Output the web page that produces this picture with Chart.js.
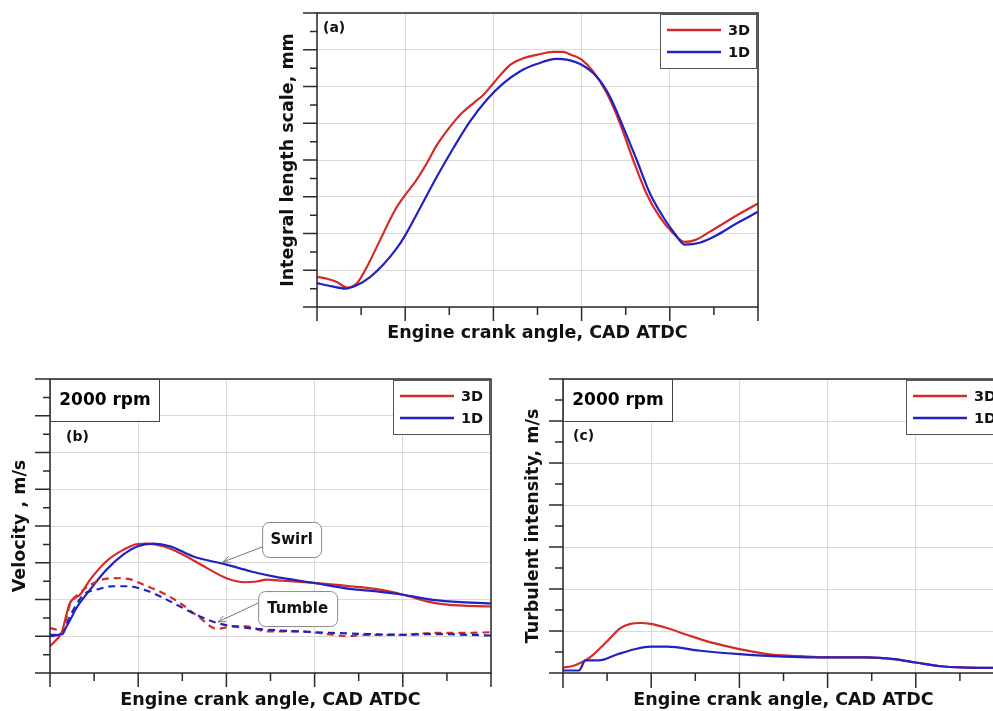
<!DOCTYPE html>
<html>
<head>
<meta charset="utf-8">
<script src="https://cdn.jsdelivr.net/npm/chart.js@4/dist/chart.umd.min.js"></script>
<style>
  html, body { margin: 0; padding: 0; background: #fff; overflow: hidden; width: 993px; height: 711px; }
  canvas { position: absolute; }
</style>
</head>
<body>
<canvas id="panelA" width="500" height="345" style="left:270px;top:0px"></canvas>
<canvas id="panelB" width="500" height="351" style="left:0px;top:360px"></canvas>
<canvas id="panelC" width="520" height="351" style="left:500px;top:360px"></canvas>
<script>
// ---- (a) integral length scale ----
const lengthX3D = [0, 0.23, 0.45, 0.68, 0.9, 1.13, 1.43, 1.77, 2.0, 2.23, 2.49, 2.72, 3.02, 3.28, 3.55, 3.77, 4.0, 4.38, 4.68, 4.98, 5.36, 5.58, 5.77, 6.0, 6.26, 6.57, 6.87, 7.17, 7.47, 7.77, 8.08, 8.34, 8.57, 8.91, 9.28, 9.66, 10];
const length3D  = [0.82, 0.77, 0.68, 0.53, 0.64, 1.09, 1.82, 2.64, 3.05, 3.41, 3.91, 4.41, 4.91, 5.27, 5.55, 5.77, 6.09, 6.59, 6.77, 6.86, 6.94, 6.94, 6.86, 6.73, 6.41, 5.82, 5.0, 4.0, 3.09, 2.45, 2.0, 1.77, 1.82, 2.05, 2.32, 2.59, 2.82];
const lengthX1D = [0, 0.34, 0.64, 0.9, 1.21, 1.51, 1.81, 2.0, 2.34, 2.72, 3.09, 3.47, 3.85, 4.23, 4.6, 4.98, 5.43, 5.66, 6.0, 6.34, 6.64, 6.94, 7.25, 7.55, 7.85, 8.11, 8.34, 8.68, 9.06, 9.51, 10];
const length1D  = [0.65, 0.56, 0.5, 0.59, 0.82, 1.16, 1.6, 1.95, 2.7, 3.55, 4.32, 5.05, 5.64, 6.09, 6.41, 6.61, 6.75, 6.73, 6.59, 6.27, 5.73, 4.91, 4.0, 3.09, 2.45, 2.0, 1.7, 1.75, 1.95, 2.27, 2.59];

// ---- (b) swirl and tumble velocity ----
const swirlX3D = [0, 0.15, 0.26, 0.45, 0.68, 0.91, 1.28, 1.66, 1.99, 2.19, 2.57, 3.02, 3.55, 4.0, 4.42, 4.69, 4.91, 5.29, 5.99, 6.8, 7.41, 8.01, 8.54, 9.0, 10];
const swirl3D  = [0.73, 0.91, 1.09, 1.9, 2.13, 2.54, 3.04, 3.35, 3.51, 3.52, 3.45, 3.22, 2.86, 2.58, 2.47, 2.49, 2.54, 2.51, 2.45, 2.36, 2.28, 2.13, 1.95, 1.86, 1.81];
const swirlX1D = [0, 0.26, 0.42, 0.6, 0.91, 1.28, 1.66, 1.99, 2.34, 2.72, 3.25, 4.0, 4.54, 5.06, 5.99, 6.8, 7.41, 8.01, 8.69, 9.45, 10];
const swirl1D  = [1.0, 1.07, 1.36, 1.77, 2.27, 2.81, 3.22, 3.45, 3.52, 3.45, 3.17, 2.95, 2.77, 2.63, 2.45, 2.29, 2.22, 2.13, 1.99, 1.92, 1.89];
const tumbleX3D = [0, 0.15, 0.26, 0.45, 0.68, 1.06, 1.44, 1.78, 2.12, 2.49, 2.95, 3.4, 3.78, 4.16, 4.46, 4.91, 5.67, 6.42, 6.73, 7.18, 8.01, 8.69, 9.45, 10];
const tumble3D  = [1.22, 1.18, 1.09, 1.86, 2.18, 2.49, 2.58, 2.56, 2.4, 2.22, 1.9, 1.5, 1.2, 1.27, 1.27, 1.13, 1.13, 1.04, 1.0, 1.04, 1.04, 1.09, 1.09, 1.11];
const tumbleX1D = [0, 0.26, 0.45, 0.76, 1.06, 1.44, 1.78, 2.12, 2.49, 2.95, 3.4, 3.85, 4.31, 4.91, 5.67, 6.42, 7.18, 8.01, 8.69, 9.45, 10];
const tumble1D  = [1.04, 1.04, 1.54, 2.13, 2.27, 2.36, 2.36, 2.27, 2.09, 1.81, 1.54, 1.34, 1.25, 1.18, 1.13, 1.09, 1.06, 1.04, 1.06, 1.04, 1.02];

// ---- (c) turbulent intensity ----
const turbX3D = [0, 0.2, 0.39, 0.62, 0.85, 1.07, 1.3, 1.53, 1.75, 1.99, 2.36, 2.81, 3.42, 4.0, 4.63, 5.38, 6.0, 6.89, 7.5, 8.0, 8.56, 9.16, 9.77, 10];
const turb3D  = [0.13, 0.16, 0.24, 0.38, 0.6, 0.83, 1.07, 1.17, 1.19, 1.17, 1.07, 0.91, 0.71, 0.57, 0.45, 0.4, 0.37, 0.37, 0.33, 0.25, 0.16, 0.13, 0.12, 0.12];
const turbX1D = [0, 0.36, 0.51, 0.81, 1.22, 1.6, 1.99, 2.36, 3.11, 4.0, 4.63, 5.38, 6.0, 6.89, 7.5, 8.0, 8.56, 9.16, 9.77, 10];
const turb1D  = [0.06, 0.06, 0.3, 0.3, 0.44, 0.56, 0.63, 0.63, 0.53, 0.45, 0.41, 0.38, 0.37, 0.37, 0.33, 0.25, 0.16, 0.13, 0.12, 0.12];

const seriesNames = ['3D', '1D'];
const xTitle = 'Engine crank angle, CAD ATDC';

const RED = '#d42a2a';
const BLUE = '#2222c0';
const INK = '#2a2a2a';
const GRID = '#dadada';
const FONT = 'DejaVu Sans';

const pts = (xs, ys) => xs.map((x, i) => ({ x, y: ys[i] }));

function line(label, xs, ys, color, dashed, order) {
  return {
    label, data: pts(xs, ys), borderColor: color, backgroundColor: color,
    borderWidth: 2.2, pointRadius: 0, cubicInterpolationMode: 'monotone',
    borderDash: dashed ? [7, 5] : [], fill: false, order
  };
}

// Frame, major/minor tick marks, legend and in-plot labels
const panelDecor = {
  id: 'panelDecor',
  afterDraw(chart, args, o) {
    const { ctx, chartArea: a, scales: { x, y } } = chart;
    ctx.save();
    ctx.strokeStyle = INK;
    ctx.lineWidth = 1.5;
    ctx.strokeRect(a.left, a.top, a.right - a.left, a.bottom - a.top);

    ctx.beginPath();
    for (let v = y.min; v <= y.max + 1e-9; v += 0.5) {
      const py = y.getPixelForValue(v);
      const len = Number.isInteger(v) ? o.yMajor : o.yMinor;
      ctx.moveTo(a.left - len, py); ctx.lineTo(a.left, py);
    }
    for (let v = x.min; v <= x.max + 1e-9; v += 1) {
      const px = x.getPixelForValue(v);
      const len = v % 2 === 0 ? o.xMajor : o.xMinor;
      ctx.moveTo(px, a.bottom); ctx.lineTo(px, a.bottom + len);
    }
    ctx.stroke();

    // legend
    const bx = a.right - 98, by = a.top + 1, bw = 96, bh = 54;
    ctx.fillStyle = '#fff';
    ctx.fillRect(bx, by, bw, bh);
    ctx.strokeStyle = '#555';
    ctx.lineWidth = 1;
    ctx.strokeRect(bx + 0.5, by + 0.5, bw, bh);
    const legendSets = chart.data.datasets.filter(d => d.inLegend);
    legendSets.forEach((d, i) => {
      const ly = by + 16 + i * 22;
      ctx.strokeStyle = d.borderColor;
      ctx.lineWidth = 2.6;
      ctx.beginPath(); ctx.moveTo(bx + 7, ly); ctx.lineTo(bx + 61, ly); ctx.stroke();
      ctx.fillStyle = '#111';
      ctx.font = `bold 14.5px "${FONT}"`;
      ctx.textBaseline = 'middle';
      ctx.textAlign = 'left';
      ctx.fillText(d.label, bx + 68, ly + 1);
    });

    // speed box
    if (o.rpm) {
      ctx.fillStyle = '#fff';
      ctx.fillRect(a.left, a.top, 109, 42);
      ctx.strokeStyle = '#444';
      ctx.lineWidth = 1;
      ctx.strokeRect(a.left + 0.5, a.top + 0.5, 109, 42);
      ctx.fillStyle = '#000';
      ctx.font = `bold 17px "${FONT}"`;
      ctx.textAlign = 'center';
      ctx.textBaseline = 'middle';
      ctx.fillText(o.rpm, a.left + 55, a.top + 22);
    }

    // panel tag
    ctx.fillStyle = '#111';
    ctx.font = `bold 14px "${FONT}"`;
    ctx.textAlign = 'left';
    ctx.textBaseline = 'middle';
    ctx.fillText(o.tag, a.left + o.tagDx, a.top + o.tagDy);

    // callouts
    (o.callouts || []).forEach(c => {
      const tx = x.getPixelForValue(c.tip[0]), ty = y.getPixelForValue(c.tip[1]);
      const lx = x.getPixelForValue(c.box[0]), ly = y.getPixelForValue(c.box[1]);
      const sx = lx, sy = ly + c.from;
      ctx.strokeStyle = '#777';
      ctx.lineWidth = 1;
      ctx.beginPath(); ctx.moveTo(sx, sy); ctx.lineTo(tx, ty); ctx.stroke();
      const ang = Math.atan2(ty - sy, tx - sx);
      ctx.beginPath();
      ctx.moveTo(tx - 8 * Math.cos(ang - 0.4), ty - 8 * Math.sin(ang - 0.4));
      ctx.lineTo(tx, ty);
      ctx.lineTo(tx - 8 * Math.cos(ang + 0.4), ty - 8 * Math.sin(ang + 0.4));
      ctx.stroke();
      ctx.fillStyle = '#fff';
      ctx.beginPath(); ctx.roundRect(lx + 0.5, ly + 0.5, c.w, c.h, 7); ctx.fill();
      ctx.strokeStyle = '#888';
      ctx.stroke();
      ctx.fillStyle = '#111';
      ctx.font = `bold 15px "${FONT}"`;
      ctx.textAlign = 'center';
      ctx.textBaseline = 'middle';
      ctx.fillText(c.text, lx + c.w / 2, ly + c.h / 2 + 1);
    });
    ctx.restore();
  }
};

function makeChart(id, datasets, cfg) {
  return new Chart(document.getElementById(id), {
    type: 'line',
    data: { datasets },
    plugins: [panelDecor],
    options: {
      responsive: false,
      animation: false,
      devicePixelRatio: 1,
      layout: { padding: { top: cfg.padTop, right: cfg.padRight, left: 0, bottom: 0 } },
      plugins: {
        legend: { display: false },
        tooltip: { enabled: false },
        panelDecor: cfg.decor
      },
      scales: {
        x: {
          type: 'linear', min: 0, max: 10,
          ticks: { display: false, stepSize: 2 },
          grid: { drawTicks: false, color: GRID, lineWidth: 1 },
          border: { display: false },
          title: { display: true, text: xTitle, color: '#111',
                   font: { family: FONT, size: 17.5, weight: 'bold' },
                   padding: { top: 0, bottom: cfg.xTitlePad } },
          afterFit: s => { s.height = cfg.xHeight; }
        },
        y: {
          type: 'linear', min: 0, max: cfg.yMax,
          ticks: { display: false, stepSize: 1 },
          grid: { drawTicks: false, color: GRID, lineWidth: 1 },
          border: { display: false },
          title: { display: true, text: cfg.yTitle, color: '#111',
                   font: { family: FONT, size: 17.5, weight: 'bold' },
                   padding: { top: cfg.yTitlePad, bottom: 0 } },
          afterFit: s => { s.width = cfg.yWidth; }
        }
      }
    }
  });
}

function legendPair(d3, d1) {
  d3.inLegend = true; d1.inLegend = true;
  return [d3, d1];
}

// (a)
makeChart('panelA', legendPair(
  line(seriesNames[0], lengthX3D, length3D, RED, false, 2),
  line(seriesNames[1], lengthX1D, length1D, BLUE, false, 1)
), {
  padTop: 13, padRight: 12, xHeight: 38, yWidth: 47, yMax: 8,
  xTitlePad: 1.5, yTitlePad: 7.5, yTitle: 'Integral length scale, mm',
  decor: { yMajor: 14, yMinor: 7, xMajor: 14, xMinor: 8, tag: '(a)', tagDx: 6, tagDy: 15 }
});

// (b)
const bSets = legendPair(
  line(seriesNames[0], swirlX3D, swirl3D, RED, false, 4),
  line(seriesNames[1], swirlX1D, swirl1D, BLUE, false, 3)
);
bSets.push(line('Tumble ' + seriesNames[0], tumbleX3D, tumble3D, RED, true, 2));
bSets.push(line('Tumble ' + seriesNames[1], tumbleX1D, tumble1D, BLUE, true, 1));
makeChart('panelB', bSets, {
  padTop: 19, padRight: 9, xHeight: 38, yWidth: 50, yMax: 8,
  xTitlePad: 0.5, yTitlePad: 9.5, yTitle: 'Velocity , m/s',
  decor: {
    yMajor: 15, yMinor: 7, xMajor: 14, xMinor: 8, tag: '(b)', tagDx: 16, tagDy: 58, rpm: '2000 rpm',
    callouts: [
      { text: 'Swirl', tip: [3.92, 3.02], box: [4.81, 4.11], w: 59, h: 35, from: 25 },
      { text: 'Tumble', tip: [3.81, 1.39], box: [4.72, 2.23], w: 79, h: 35, from: 12 }
    ]
  }
});

// (c)
makeChart('panelC', legendPair(
  line(seriesNames[0], turbX3D, turb3D, RED, false, 2),
  line(seriesNames[1], turbX1D, turb1D, BLUE, false, 1)
), {
  padTop: 19, padRight: 16, xHeight: 38, yWidth: 63, yMax: 7,
  xTitlePad: 0.5, yTitlePad: 22.5, yTitle: 'Turbulent intensity, m/s',
  decor: { yMajor: 14, yMinor: 8, xMajor: 15, xMinor: 8, tag: '(c)', tagDx: 10, tagDy: 57, rpm: '2000 rpm' }
});
</script>
</body>
</html>
